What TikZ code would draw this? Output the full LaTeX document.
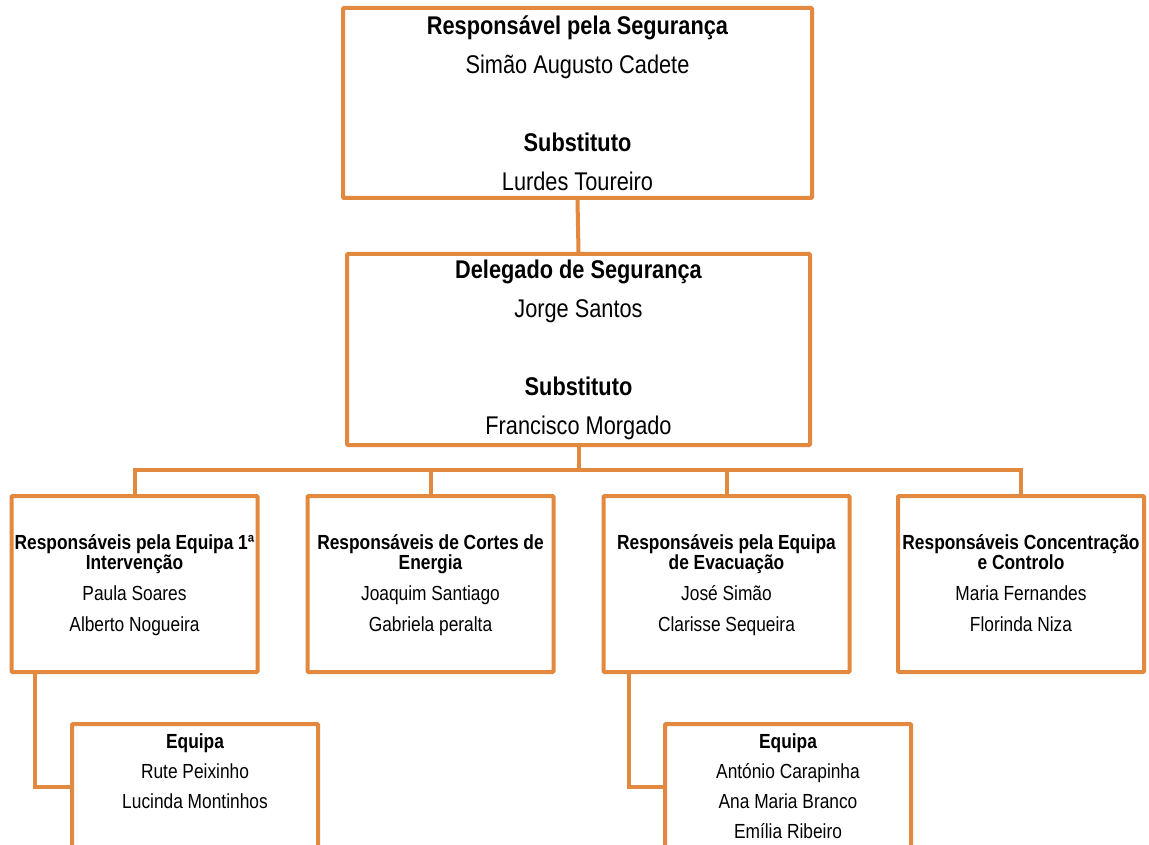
\documentclass[tikz,border=0pt]{standalone}
\usepackage{fontspec}
\setmainfont[FakeStretch=0.85]{Liberation Sans}
\usepackage{xcolor}
\definecolor{laranja}{RGB}{226,137,63}

\begin{document}
\begin{tikzpicture}[x=1pt,y=-1pt,
    caixa/.style={draw=laranja, line width=4pt, fill=white, rounded corners=1pt, align=center, inner sep=0pt},
    grande/.style={caixa, font=\fontsize{25.6}{39}\selectfont},
    media/.style={caixa, minimum width=246pt, minimum height=176pt, font=\fontsize{20.4}{31}\selectfont},
    equipa/.style={caixa, minimum width=246pt, minimum height=126pt, font=\fontsize{20.4}{30}\selectfont},
    liga/.style={draw=laranja, line width=4pt}]
            \useasboundingbox (0,0) rectangle (1149,845);
            \clip (0,0) rectangle (1149,845);
            \fill[white] (0,0) rectangle (1149,845);
            % topo
            \node[grande, minimum width=469pt, minimum height=190pt] (resp) at (577.5,103) {{\bfseries Responsável pela Segurança}\\ Simão Augusto Cadete\\[39pt] {\bfseries Substituto}\\ Lurdes Toureiro};
            \node[grande, minimum width=463pt, minimum height=191pt] (deleg) at (578.5,349.5) {{\bfseries Delegado de Segurança}\\ Jorge Santos\\[39pt] {\bfseries Substituto}\\ Francisco Morgado};
            % equipas
            \node[media] (eq1) at (134.5,584) {{\bfseries\strut Responsáveis pela Equipa 1ª}\\[-11pt] {\bfseries Intervenção}\\ Paula Soares\\ Alberto Nogueira\strut};
            \node[media] (cortes) at (430.5,584) {{\bfseries\strut Responsáveis de Cortes de}\\[-11pt] {\bfseries Energia}\\ Joaquim Santiago\\ Gabriela peralta\strut};
            \node[media] (evac) at (726.5,584) {{\bfseries\strut Responsáveis pela Equipa}\\[-11pt] {\bfseries de Evacuação}\\ José Simão\\ Clarisse Sequeira\strut};
            \node[media] (conc) at (1021,584) {{\bfseries\strut Responsáveis Concentração}\\[-11pt] {\bfseries e Controlo}\\ Maria Fernandes\\ Florinda Niza\strut};
            % sub-equipas
            \node[equipa, anchor=north] (eqA) at (195,722) {{\bfseries\strut Equipa}\\ Rute Peixinho\\ Lucinda Montinhos\\ \strut};
            \node[equipa, anchor=north] (eqB) at (788,722) {{\bfseries\strut Equipa}\\ António Carapinha\\ Ana Maria Branco\\ Emília Ribeiro\strut};
            % ligacoes
            \coordinate (bus) at (578.5,470);
            \draw[liga] (resp.south) -- (deleg.north);
            \draw[liga] (deleg.south) -- (bus);
            \draw[liga] (eq1.north) |- (bus) -| (conc.north);
            \draw[liga] (cortes.north) -- (cortes.north |- bus);
            \draw[liga] (evac.north) -- (evac.north |- bus);
            \draw[liga] ([xshift=25pt]eq1.south west) |- (eqA.west);
            \draw[liga] ([xshift=27pt]evac.south west) |- (eqB.west);
        \end{tikzpicture}
\end{document}
